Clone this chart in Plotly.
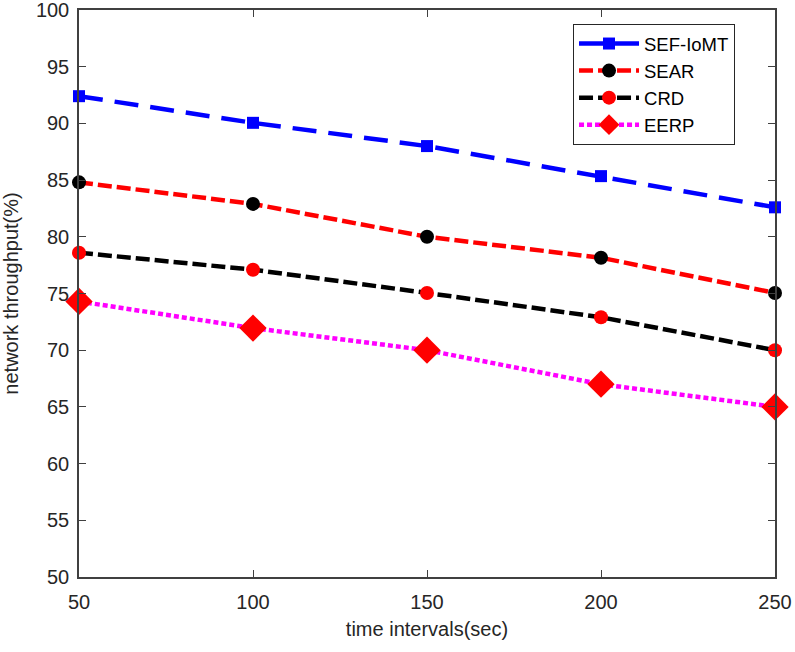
import plotly.graph_objects as go

time_intervals = [50, 100, 150, 200, 250]
sef_iomt = [92.4, 90.05, 88.0, 85.35, 82.6]
sear = [84.8, 82.9, 80.0, 78.15, 75.05]
crd = [78.6, 77.1, 75.05, 72.9, 70.0]
eerp = [74.3, 71.95, 70.0, 67.0, 65.0]
y_ticks = [50, 55, 60, 65, 70, 75, 80, 85, 90, 95, 100]
x_ticks = [50, 100, 150, 200, 250]

fig = go.Figure()
fig.add_trace(go.Scatter(x=time_intervals, y=sef_iomt, name="SEF-IoMT", mode="lines+markers",
                         line=dict(color="#0000ff", width=4.5, dash="24px,12px"),
                         marker=dict(symbol="square", size=12, color="#0000ff"), cliponaxis=False))
fig.add_trace(go.Scatter(x=time_intervals, y=sear, name="SEAR", mode="lines+markers",
                         line=dict(color="#ff0000", width=4.5, dash="14px,5px"),
                         marker=dict(symbol="circle", size=14, color="#000000"), cliponaxis=False))
fig.add_trace(go.Scatter(x=time_intervals, y=crd, name="CRD", mode="lines+markers",
                         line=dict(color="#000000", width=4.5, dash="14px,5px"),
                         marker=dict(symbol="circle", size=14, color="#ff0000"), cliponaxis=False))
fig.add_trace(go.Scatter(x=time_intervals, y=eerp, name="EERP", mode="lines+markers",
                         line=dict(color="#ff00ff", width=4.5, dash="5px,3px"),
                         marker=dict(symbol="diamond", size=21, color="#ff0000"), cliponaxis=False))

axis_common = dict(showline=True, linecolor="#404040", linewidth=1.5, mirror="ticks",
                   ticks="inside", ticklen=7, tickcolor="#404040", showgrid=False, zeroline=False,
                   automargin=False, ticklabeloverflow="allow",
                   tickfont=dict(family="Liberation Sans, Arial", size=20, color="#262626"))

fig.update_layout(
    width=795, height=652,
    margin=dict(l=79, r=20, t=10, b=75),
    paper_bgcolor="white", plot_bgcolor="white",
    font=dict(family="Liberation Sans, Arial", color="#262626"),
    xaxis=dict(range=[50, 250], tickvals=x_ticks, ticklabelstandoff=6,
               title=dict(text="time intervals(sec)", font=dict(size=20), standoff=10), **axis_common),
    yaxis=dict(range=[50, 100], tickvals=y_ticks, ticklabelstandoff=4,
               title=dict(text="network throughput(%)", font=dict(size=20), standoff=14), **axis_common),
    legend=dict(x=0.7098, y=0.9753, xanchor="left", yanchor="top", bordercolor="#262626", borderwidth=1,
                bgcolor="white", font=dict(size=18.5, color="#000000"), tracegroupgap=0, itemwidth=60),
    showlegend=True,
)

fig.write_html("out.html", config={"displayModeBar": False},
               post_script="document.body.style.margin='0';document.body.style.overflow='hidden';")
